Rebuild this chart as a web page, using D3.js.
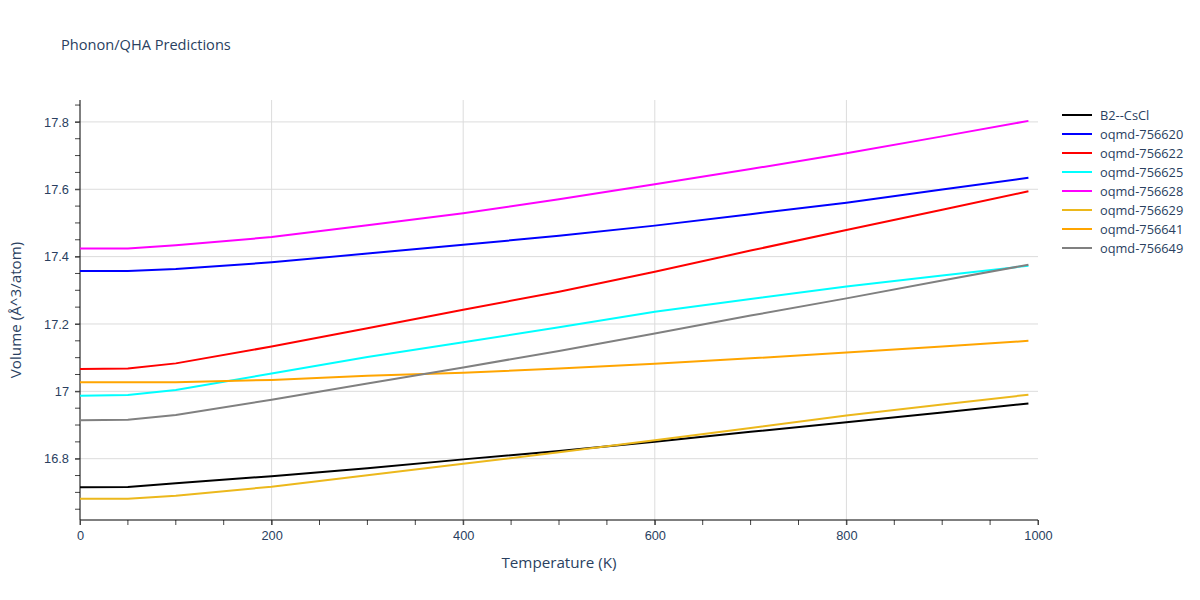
<!DOCTYPE html>
<html>
<head>
<meta charset="utf-8">
<script src="https://cdn.jsdelivr.net/npm/d3@7"></script>
<style>
  body { margin: 0; background: #fff; }
  svg { font-family: "Open Sans", verdana, arial, sans-serif; }
  .tick text { fill: #2a3f5f; font-size: 12.8px; }
</style>
</head>
<body>
<div id="chart"></div>
<script>
// temperatures (K)
const temps = [0, 50, 100, 200, 300, 400, 500, 600, 700, 800, 900, 990];

const seriesNames = ['B2--CsCl', 'oqmd-756620', 'oqmd-756622', 'oqmd-756625',
  'oqmd-756628', 'oqmd-756629', 'oqmd-756641', 'oqmd-756649'];
const seriesColors = ['#000000', '#0000ff', '#ff0000', '#00ffff',
  '#ff00ff', '#ecb81c', '#ffa500', '#808080'];

// volume values per series, same order as temps
const vB2CsCl = [16.715, 16.716, 16.727, 16.748, 16.772, 16.798, 16.823, 16.850, 16.880, 16.908, 16.937, 16.964];
const v756620 = [17.357, 17.357, 17.363, 17.383, 17.409, 17.435, 17.462, 17.492, 17.526, 17.560, 17.599, 17.634];
const v756622 = [17.066, 17.068, 17.083, 17.133, 17.187, 17.242, 17.296, 17.355, 17.418, 17.479, 17.539, 17.594];
const v756625 = [16.987, 16.989, 17.004, 17.053, 17.102, 17.146, 17.190, 17.236, 17.274, 17.311, 17.344, 17.373];
const v756628 = [17.424, 17.424, 17.434, 17.458, 17.493, 17.529, 17.570, 17.615, 17.660, 17.707, 17.757, 17.803];
const v756629 = [16.681, 16.681, 16.690, 16.717, 16.751, 16.785, 16.819, 16.855, 16.891, 16.928, 16.961, 16.990];
const v756641 = [17.027, 17.027, 17.027, 17.034, 17.046, 17.055, 17.068, 17.082, 17.098, 17.115, 17.133, 17.150];
const v756649 = [16.914, 16.916, 16.930, 16.975, 17.023, 17.071, 17.120, 17.172, 17.225, 17.276, 17.329, 17.376];
const seriesValues = [vB2CsCl, v756620, v756622, v756625, v756628, v756629, v756641, v756649];

const xTicks = [0, 200, 400, 600, 800, 1000];
const yTicks = [16.8, 17, 17.2, 17.4, 17.6, 17.8];

const width = 1200, height = 600;
const margin = { top: 100, right: 162, bottom: 80, left: 80 };
const innerW = width - margin.left - margin.right;
const innerH = height - margin.top - margin.bottom;

const svg = d3.select('#chart').append('svg')
  .attr('width', width)
  .attr('height', height);

const x = d3.scaleLinear().domain([0, 1000]).range([0, innerW]);
const y = d3.scaleLinear().domain([16.618, 17.865]).range([innerH, 0]);

const g = svg.append('g').attr('transform', `translate(${margin.left},${margin.top})`);

// gridlines
g.append('g').selectAll('line')
  .data(xTicks.filter(t => t > 0 && t < 1000))
  .join('line')
  .attr('x1', d => x(d)).attr('x2', d => x(d))
  .attr('y1', 0).attr('y2', innerH)
  .attr('stroke', '#dcdcdc').attr('stroke-width', 1);

g.append('g').selectAll('line')
  .data(yTicks)
  .join('line')
  .attr('x1', 0).attr('x2', innerW)
  .attr('y1', d => y(d)).attr('y2', d => y(d))
  .attr('stroke', '#dcdcdc').attr('stroke-width', 1);

// minor ticks
const xMinor = d3.range(0, 1001, 50);
const yMinor = d3.range(16.65, 17.86, 0.05);
g.append('g').selectAll('line')
  .data(xMinor)
  .join('line')
  .attr('x1', d => x(d)).attr('x2', d => x(d))
  .attr('y1', innerH).attr('y2', innerH + 5)
  .attr('stroke', '#444');
g.append('g').selectAll('line')
  .data(yMinor)
  .join('line')
  .attr('x1', -5).attr('x2', 0)
  .attr('y1', d => y(d)).attr('y2', d => y(d))
  .attr('stroke', '#444');

// axes
const xAxis = g.append('g')
  .attr('transform', `translate(0,${innerH})`)
  .call(d3.axisBottom(x).tickValues(xTicks).tickSize(5).tickPadding(6).tickFormat(d3.format('d')));
const yAxis = g.append('g')
  .call(d3.axisLeft(y).tickValues(yTicks).tickSize(5).tickPadding(6).tickFormat(d => +d.toFixed(1)));
[xAxis, yAxis].forEach(a => {
  a.select('.domain').attr('stroke', '#000').attr('stroke-width', 1);
  a.selectAll('.tick line').attr('stroke', '#444');
});
xAxis.select('.domain').attr('d', `M0,0H${innerW}`);
yAxis.select('.domain').attr('d', `M0,0V${innerH}`);

// lines
const line = d3.line()
  .x((d, i) => x(temps[i]))
  .y(d => y(d));

g.append('g').selectAll('path')
  .data(seriesValues)
  .join('path')
  .attr('fill', 'none')
  .attr('stroke', (d, i) => seriesColors[i])
  .attr('stroke-width', 2)
  .attr('d', line);

// title and axis labels
svg.append('text')
  .attr('x', 61).attr('y', 50)
  .attr('fill', '#2a3f5f').attr('font-size', 14.6)
  .text('Phonon/QHA Predictions');

svg.append('text')
  .attr('x', margin.left + innerW / 2).attr('y', 568)
  .attr('text-anchor', 'middle')
  .attr('fill', '#2a3f5f').attr('font-size', 15.2)
  .text('Temperature (K)');

svg.append('text')
  .attr('transform', `translate(21,${margin.top + innerH / 2}) rotate(-90)`)
  .attr('text-anchor', 'middle')
  .attr('fill', '#2a3f5f').attr('font-size', 15.2)
  .text('Volume (Å^3/atom)');

// legend
const legend = svg.append('g').attr('transform', 'translate(1062,115)');
const item = legend.selectAll('g')
  .data(seriesNames)
  .join('g')
  .attr('transform', (d, i) => `translate(0,${i * 19})`);
item.append('line')
  .attr('x1', 0).attr('x2', 30)
  .attr('stroke', (d, i) => seriesColors[i])
  .attr('stroke-width', 2);
item.append('text')
  .attr('x', 38).attr('y', 4.5)
  .attr('fill', '#2a3f5f').attr('font-size', 12.8)
  .text(d => d);
</script>
</body>
</html>
